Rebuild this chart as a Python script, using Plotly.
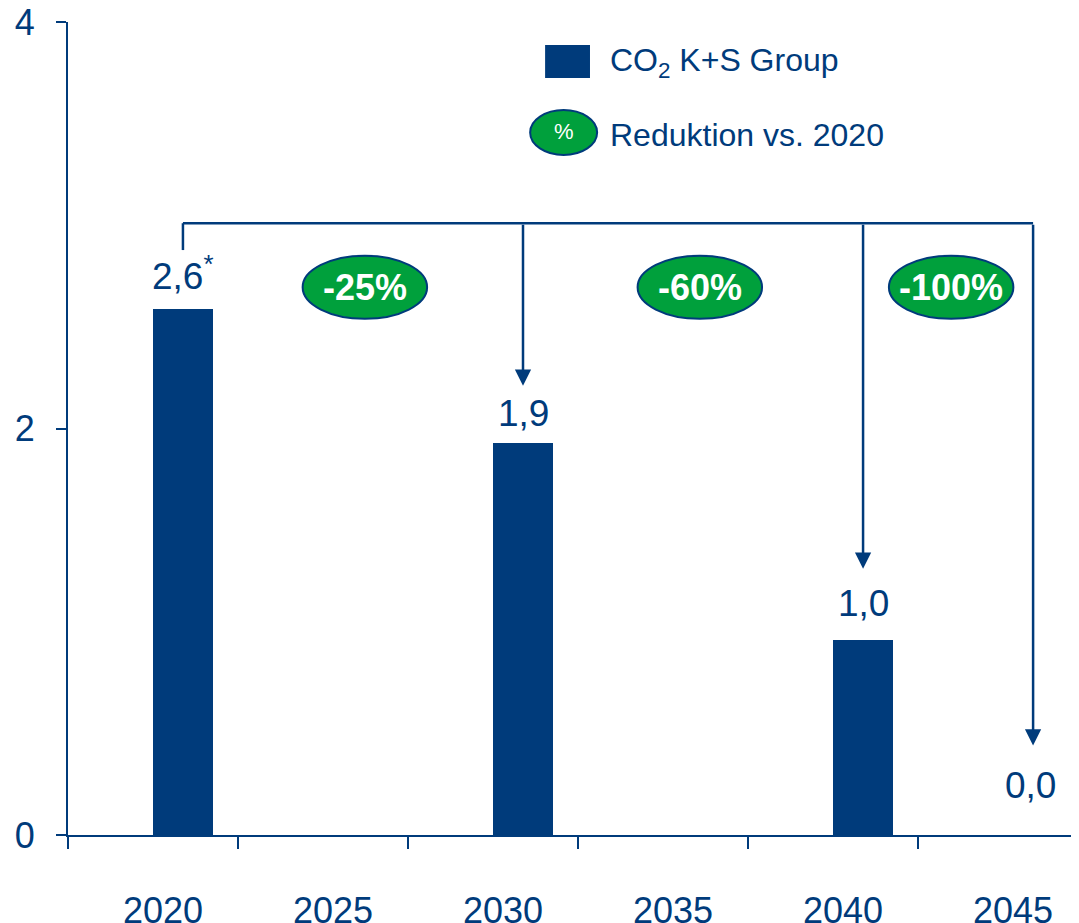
import plotly.graph_objects as go

# ---- data ----
years = [2020, 2025, 2030, 2035, 2040, 2045]
year_labels = ["2020", "2025", "2030", "2035", "2040", "2045"]
bar_years = [2020, 2030, 2040, 2045]
bar_values = [2.59, 1.93, 0.96, 0.0]
bar_labels = ["2,6<sup>*</sup>", "1,9", "1,0", "0,0"]
reduction_years = [2025.35, 2035.2, 2042.59]
reduction_labels = ["-25%", "-60%", "-100%"]
arrow_years = [2030, 2040, 2045]
arrow_tips = [2.21, 1.31, 0.44]
bracket_level = 3.01
y_ticks = [0, 2, 4]

NAVY = "#003B7B"
GREEN = "#00A03C"
FONT = "Arial, Liberation Sans, sans-serif"

fig = go.Figure()
fig.add_trace(go.Bar(
    x=bar_years, y=bar_values, width=1.76,
    marker=dict(color=NAVY, line=dict(width=0)),
    showlegend=False, hoverinfo="skip",
))

# value labels
gaps = [10, 7, 14, 27]
for x, v, t, g in zip(bar_years, bar_values, bar_labels, gaps):
    fig.add_annotation(x=x, y=v, text=t, showarrow=False, yanchor="bottom",
                       yshift=g, xshift=(-3 if v == 0 else 0),
                       font=dict(family=FONT, size=37, color=NAVY))

# bracket lines
fig.add_shape(type="line", x0=bar_years[0], x1=arrow_years[-1], y0=bracket_level, y1=bracket_level,
              line=dict(color=NAVY, width=2.5))
fig.add_shape(type="line", x0=bar_years[0], x1=bar_years[0], y0=bracket_level, y1=2.878,
              line=dict(color=NAVY, width=2.5))
for x, tip in zip(arrow_years, arrow_tips):
    fig.add_annotation(x=x, y=tip, ax=x, ay=bracket_level, axref="x", ayref="y",
                       xref="x", yref="y", showarrow=True, arrowhead=2, arrowsize=1.3,
                       arrowwidth=2.5, arrowcolor=NAVY, standoff=0, text="")

# reduction ellipses
for x, t in zip(reduction_years, reduction_labels):
    fig.add_shape(type="circle", x0=x - 1.83, x1=x + 1.83, y0=2.54, y1=2.85,
                  fillcolor=GREEN, line=dict(color=NAVY, width=2))
    fig.add_annotation(x=x, y=2.695, text="<b>%s</b>" % t, showarrow=False,
                       font=dict(family=FONT, size=36, color="white"))

# legend
fig.add_shape(type="rect", x0=2030.65, x1=2031.97, y0=3.724, y1=3.887,
              fillcolor=NAVY, line=dict(width=0))
fig.add_annotation(x=2032.5, y=3.80, text="CO<sub>2</sub> K+S Group", showarrow=False,
                   xanchor="left", font=dict(family=FONT, size=32, color=NAVY))
fig.add_shape(type="circle", x0=2030.21, x1=2032.18, y0=3.346, y1=3.567,
              fillcolor=GREEN, line=dict(color=NAVY, width=2))
fig.add_annotation(x=2031.2, y=3.46, text="%", showarrow=False,
                   font=dict(family=FONT, size=22, color="white"))
fig.add_annotation(x=2032.5, y=3.444, text="Reduktion vs. 2020", showarrow=False,
                   xanchor="left", font=dict(family=FONT, size=32, color=NAVY))

minor_ticks = [2016.62 + 5 * k for k in range(6)]
fig.update_layout(
    width=1071, height=915,
    margin=dict(l=60, r=0, t=14, b=88),
    paper_bgcolor="white", plot_bgcolor="white",
    bargap=0,
    xaxis=dict(range=[2016.62, 2046.35], tickmode="array", tickvals=years, ticktext=year_labels,
               ticks="", showline=True, linecolor=NAVY, linewidth=2, showgrid=False, zeroline=False,
               automargin=False, ticklabeloverflow="allow",
               ticklabelstandoff=43, ticklabelshift=-20,
               tickfont=dict(family=FONT, size=36, color=NAVY),
               minor=dict(tickmode="array", tickvals=minor_ticks, ticks="outside", ticklen=12,
                          tickwidth=2, tickcolor=NAVY, showgrid=False)),
    yaxis=dict(range=[0, 4], tickmode="array", tickvals=y_ticks, ticks="outside", ticklen=10,
               tickwidth=2, tickcolor=NAVY, showline=True, linecolor=NAVY, linewidth=2,
               showgrid=False, zeroline=False, ticklabelstandoff=14, automargin=False,
               ticklabeloverflow="allow",
               tickfont=dict(family=FONT, size=36, color=NAVY)),
)

fig.write_html("out.html")
